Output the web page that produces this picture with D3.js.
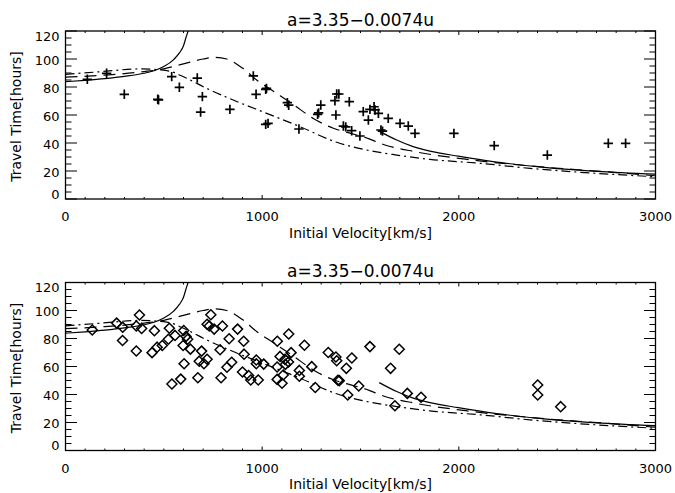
<!DOCTYPE html>
<html><head><meta charset="utf-8">
<script src="https://cdn.jsdelivr.net/npm/d3@7/dist/d3.min.js"></script>
<style>
html,body{margin:0;padding:0;background:#fff;}
svg{display:block;}
text{font-family:"DejaVu Sans",sans-serif;fill:#000;}
</style></head>
<body>
<svg id="chart" width="675" height="493"></svg>
<script>
// ---- data ----
const titleText = "a=3.35\u22120.0074u";
const xLabel = "Initial Velocity[km/s]";
const yLabel = "Travel Time[hours]";
const xTickValues = [0, 1000, 2000, 3000];
const yTickValues = [0, 20, 40, 60, 80, 100, 120];

// top panel observations (+)
const topV = [111,209,299,469,473,540,579,670,696,687,836,955,969,1018,1022,1018,1030,1128,1135,1187,1282,1287,1298,1370,1379,1390,1375,1443,1413,1425,1455,1497,1514,1548,1569,1574,1540,1591,1641,1604,1612,1701,1743,1777,1975,2180,2450,2760,2848];
const topT = [85.5,89.8,74.8,71.2,70.8,87.4,79.8,86.4,73.1,62.1,64,87.9,74.8,78.3,79,53.3,54,68.8,67,50,60.5,61.5,67.1,70.2,75,75,60,69.5,52.1,51.5,48.8,45,62.4,64,65.9,63.6,56.4,61.2,57.6,49.3,48.5,54,52.1,46.9,46.9,38.1,31.4,39.8,39.8];

// bottom panel observations (diamonds)
const botV = [136,260,291,290,360,376,387,360,452,440,466,492,528,523,557,541,586,601,613,621,603,598,635,673,680,692,704,720,720,731,739,756,786,791,798,832,821,845,875,906,908,900,931,942,970,970,980,1008,1077,1076,1076,1091,1101,1107,1116,1118,1135,1134,1147,1189,1189,1215,1252,1270,1336,1375,1379,1385,1392,1428,1435,1456,1491,1548,1653,1675,1697,1738,1808,2401,2401,2518];
const botT = [86.1,91,88,78.6,88.9,96.8,87.2,71.1,85.6,69.9,73.8,75,87.3,79.5,82.2,47.5,51,85.7,81.5,79.4,62,75,72.4,52,63.8,71,62,65.2,90.2,88.9,97,86.7,72,52,88.9,79.8,59.5,63,86.7,78,68.8,56.1,53.6,50.4,64.6,62,50.4,61.7,78,59.6,50.8,67.2,48,53.9,65.1,61.5,83.2,63.2,69.9,57.2,53,75.2,59.9,45,70,66.8,64.1,50.2,49.9,58.7,39.6,66.1,46.1,74.2,58.7,32,72.3,40.8,38,46.8,39.6,31.3];

// model curves
const solidAV = [0,100,200,300,400,450,500,550,580,600,613,625,632];
const solidAT = [83.8,84.8,86,87.6,89.8,91.6,94.6,99.6,104.5,109.5,115.5,121,126];
const solidBV = [1595,1684,1768,1853,1997,2192,2447,2701,3000];
const solidBT = [48.5,42.1,37.4,34.2,30.6,26.4,22.4,19.8,17.8];
const dashV = [0,200,400,500,600,700,760,820,900,972,1057,1158,1260,1362,1447,1523,1624,1777,2065,2403,2743,3000];
const dashT = [87,88.5,91,93,96.5,100,101.2,100,93.5,85,77,67.5,57.5,50.5,47,44,38.6,33.8,27.9,23.1,19.5,16.6];
const dashDotV = [0,175,379,515,616,718,853,1023,1192,1379,1514,1684,1853,2108,2362,2701,3000];
const dashDotT = [89,90.9,92.9,91.7,86.2,79,70.7,61.2,51.7,40.5,35.5,31.4,28.3,25.5,21.9,18.3,15.9];

// ---- layout ----
const svg = d3.select("#chart");
const left = 65.5, right = 655.5, plotH = 168;
const panels = [
  {top: 31, v: topV, t: topT, marker: "plus"},
  {top: 282.5, v: botV, t: botT, marker: "diamond"}
];
const x = d3.scaleLinear().domain([0, 3000]).range([left, right]);

const zip = (a, b) => a.map((d, i) => [d, b[i]]);

panels.forEach((p, pi) => {
  const y = d3.scaleLinear().domain([0, 120]).range([p.top + plotH, p.top]);
  const g = svg.append("g");
  const clipId = "clip" + pi;
  svg.append("clipPath").attr("id", clipId)
    .append("rect").attr("x", left).attr("y", p.top).attr("width", right - left).attr("height", plotH);

  // curves
  const line = d3.line().x(d => x(d[0])).y(d => y(d[1])).curve(d3.curveMonotoneX);
  const cg = g.append("g").attr("clip-path", `url(#${clipId})`).attr("fill", "none").attr("stroke", "#000").attr("stroke-width", 1.2);
  cg.append("path").attr("d", line(zip(solidAV, solidAT)));
  cg.append("path").attr("d", line(zip(solidBV, solidBT)));
  cg.append("path").attr("d", line(zip(dashV, dashT))).attr("stroke-dasharray", "12,7");
  cg.append("path").attr("d", line(zip(dashDotV, dashDotT))).attr("stroke-dasharray", "9,4,2,4");

  // markers
  const pts = zip(p.v, p.t);
  const mg = g.append("g").attr("fill", "none").attr("stroke", "#000");
  if (p.marker === "plus") {
    mg.selectAll("path").data(pts).join("path")
      .attr("stroke-width", 1.7)
      .attr("d", d => { const cx = x(d[0]), cy = y(d[1]), r = 4.7;
        return `M${cx - r},${cy}H${cx + r}M${cx},${cy - r}V${cy + r}`; });
  } else {
    mg.selectAll("path").data(pts).join("path")
      .attr("stroke-width", 1.5)
      .attr("d", d => { const cx = x(d[0]), cy = y(d[1]), r = 5;
        return `M${cx},${cy - r}L${cx + r},${cy}L${cx},${cy + r}L${cx - r},${cy}Z`; });
  }

  // axes (ticks inside on all four sides)
  const xMajL = 4, xMinL = 2, yMajL = 11.5, yMinL = 6;
  const ag = g.append("g").attr("stroke", "#000").attr("fill", "none");
  const xb = y(0), xt = y(120);
  const xAxisB = d3.axisTop(x).tickValues(d3.range(0, 3001, 100)).tickSize(0).tickFormat("");
  // draw ticks manually using scale values
  d3.range(0, 3001, 100).forEach(v => {
    const L = v % 1000 === 0 ? xMajL : xMinL;
    ag.append("line").attr("x1", x(v)).attr("x2", x(v)).attr("y1", xb).attr("y2", xb - L).attr("stroke-width", 1);
    ag.append("line").attr("x1", x(v)).attr("x2", x(v)).attr("y1", xt).attr("y2", xt + L).attr("stroke-width", 1);
  });
  d3.range(0, 121, 5).forEach(v => {
    const L = v % 20 === 0 ? yMajL : yMinL;
    ag.append("line").attr("x1", left).attr("x2", left + L).attr("y1", y(v)).attr("y2", y(v)).attr("stroke-width", 1);
    ag.append("line").attr("x1", right).attr("x2", right - L).attr("y1", y(v)).attr("y2", y(v)).attr("stroke-width", 1);
  });
  ag.append("rect").attr("x", left).attr("y", p.top).attr("width", right - left).attr("height", plotH).attr("stroke-width", 1.3);

  // tick labels
  g.selectAll(".xl").data(xTickValues).join("text")
    .attr("x", d => x(d)).attr("y", xb + 22).attr("text-anchor", "middle")
    .style("font-size", "13px").text(d => d);
  g.selectAll(".yl").data(yTickValues).join("text")
    .attr("x", left - 6).attr("y", d => y(d) + (d === 0 ? -5 : d === 120 ? 5 : 1))
    .attr("dy", "0.36em").attr("text-anchor", "end")
    .style("font-size", "13px").text(d => d);

  // titles
  g.append("text").attr("x", (left + right) / 2).attr("y", p.top - 5.5).attr("text-anchor", "middle")
    .style("font-size", "17px").text(titleText);
  g.append("text").attr("x", (left + right) / 2).attr("y", xb + 38.5).attr("text-anchor", "middle")
    .style("font-size", "14px").text(xLabel);
  g.append("text").attr("transform", `translate(16,${p.top + plotH / 2 + 1.5}) rotate(-90)`)
    .attr("dy", "0.36em").attr("text-anchor", "middle")
    .style("font-size", "14px").text(yLabel);
});
</script>
</body></html>
